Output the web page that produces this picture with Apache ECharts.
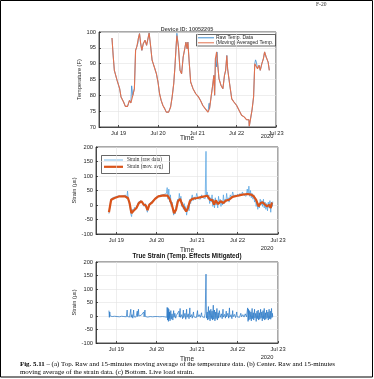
<!DOCTYPE html>
<html><head><meta charset="utf-8">
<script src="https://cdn.jsdelivr.net/npm/echarts@6/dist/echarts.min.js"></script>
<style>html,body{margin:0;padding:0;background:#fff}#c{width:374px;height:379px}</style>
</head><body><div id="c"></div><script>
// ---- data (day of July 2020, value) ----
const xTickLabels = {19:'Jul 19',20:'Jul 20',21:'Jul 21',22:'Jul 22',23:'Jul 23'};
const tempYTicks = [70,75,80,85,90,95,100];
const strainYTicks = [-100,-50,0,50,100,150,200];

const tempAvg = [[18.83,98.1],[18.86,92.6],[18.89,87.9],[18.96,84.7],[19.025,82.1],[19.06,79.5],[19.125,77.9],[19.17,76.5],[19.225,76.5],[19.275,78.4],[19.31,77.6],[19.36,80.0],[19.4,82.1],[19.43,94.2],[19.46,95.3],[19.5,97.9],[19.53,99.5],[19.56,96.3],[19.59,94.2],[19.625,96.3],[19.67,97.4],[19.71,95.8],[19.75,95.5],[19.775,99.7],[19.81,95.8],[19.85,91.1],[19.92,88.4],[19.96,86.8],[20.0,84.2],[20.04,80.5],[20.08,78.4],[20.125,76.8],[20.17,75.8],[20.21,74.7],[20.27,74.7],[20.32,76.3],[20.36,79.5],[20.4,83.7],[20.43,88.9],[20.46,95.3],[20.48,98.9],[20.52,95.3],[20.56,87.9],[20.6,86.8],[20.64,92.1],[20.68,94.7],[20.71,96.8],[20.74,94.7],[20.76,96.8],[20.79,91.1],[20.83,84.2],[20.89,82.1],[20.96,80.5],[21.03,79.5],[21.08,78.4],[21.14,76.8],[21.2,75.8],[21.27,74.7],[21.31,75.8],[21.35,79.5],[21.39,83.2],[21.42,86.3],[21.44,80.0],[21.46,91.6],[21.49,93.7],[21.52,89.5],[21.55,85.3],[21.6,83.2],[21.65,82.1],[21.69,86.3],[21.72,87.9],[21.75,92.6],[21.77,88.4],[21.82,83.7],[21.875,78.9],[21.93,77.9],[22.0,76.8],[22.06,75.3],[22.125,73.7],[22.19,73.2],[22.25,72.3],[22.31,72.3],[22.32,70.2],[22.35,70.2],[22.39,75.3],[22.43,79.5],[22.46,90.0],[22.5,90.5],[22.53,88.4],[22.57,89.5],[22.6,87.9],[22.64,90.0],[22.68,91.6],[22.71,93.7],[22.75,92.1],[22.77,92.6],[22.8,90.5],[22.83,87.9]];

const tempRaw = [[18.83,98.1],[18.86,92.6],[18.89,87.9],[18.96,84.7],[19.025,82.1],[19.06,79.5],[19.125,77.9],[19.17,76.5],[19.225,76.5],[19.275,78.4],[19.31,77.6],[19.33,83.0],[19.36,80.0],[19.4,82.1],[19.43,94.2],[19.46,95.3],[19.49,96.5],[19.5,97.9],[19.53,99.5],[19.56,96.3],[19.59,94.2],[19.625,96.3],[19.67,97.4],[19.71,95.8],[19.75,95.5],[19.775,99.7],[19.81,95.8],[19.85,91.1],[19.92,88.4],[19.96,86.8],[20.0,84.2],[20.04,80.5],[20.08,78.4],[20.125,76.8],[20.15,76.2],[20.17,75.8],[20.21,74.7],[20.27,74.7],[20.32,76.3],[20.36,79.5],[20.4,83.7],[20.43,88.9],[20.46,95.3],[20.48,99.6],[20.52,95.3],[20.56,87.9],[20.6,86.8],[20.64,92.1],[20.68,94.7],[20.71,96.8],[20.74,94.7],[20.76,96.8],[20.79,91.1],[20.83,84.2],[20.89,82.1],[20.96,80.5],[21.03,79.5],[21.08,78.4],[21.14,76.8],[21.2,75.8],[21.27,74.7],[21.3,77.5],[21.31,75.8],[21.35,79.5],[21.39,83.2],[21.42,86.3],[21.44,80.0],[21.46,91.6],[21.49,89.0],[21.5,93.7],[21.52,89.5],[21.55,85.3],[21.6,83.2],[21.65,82.1],[21.69,86.3],[21.72,87.9],[21.75,92.6],[21.77,88.4],[21.82,83.7],[21.875,78.9],[21.93,77.9],[22.0,76.8],[22.06,75.3],[22.125,73.7],[22.19,73.2],[22.25,72.3],[22.31,72.3],[22.32,70.2],[22.35,70.2],[22.39,75.3],[22.43,79.5],[22.46,90.0],[22.48,91.2],[22.5,90.5],[22.53,88.4],[22.57,89.5],[22.6,87.9],[22.64,90.0],[22.68,91.6],[22.71,93.7],[22.75,92.1],[22.77,92.6],[22.8,90.5],[22.83,87.9]];

const strainAvg = [[18.82,-25],[18.875,18],[18.96,24],[19.08,30],[19.21,30],[19.29,24],[19.33,7],[19.375,-28],[19.43,-20],[19.5,-10],[19.56,7],[19.625,13],[19.68,1],[19.73,-1],[19.775,-18],[19.82,1],[19.875,7],[19.96,21],[20.04,30],[20.17,33],[20.27,32],[20.32,21],[20.375,1],[20.43,-28],[20.48,-16],[20.525,13],[20.58,21],[20.63,1],[20.68,-10],[20.73,-22],[20.775,-10],[20.82,13],[20.875,21],[21.0,24],[21.125,28],[21.25,32],[21.32,18],[21.375,18],[21.42,1],[21.46,16],[21.52,3],[21.58,13],[21.65,7],[21.71,15],[21.79,18],[21.875,28],[22.0,32],[22.125,36],[22.25,38],[22.33,36],[22.4,30],[22.46,18],[22.52,-5],[22.57,7],[22.625,9],[22.68,1],[22.73,-5],[22.78,1],[22.82,-10],[22.85,9]];

const strainRaw = [[18.82,-30],[18.84,-10],[18.86,15],[18.88,22],[18.90,18],[18.93,26],[18.96,22],[18.99,28],[19.02,25],[19.05,31],[19.08,27],[19.11,30],[19.14,26],[19.17,32],[19.20,28],[19.23,34],[19.26,22],[19.28,48],[19.30,20],[19.32,5],[19.34,-5],[19.36,-30],[19.38,-40],[19.40,-15],[19.42,-25],[19.45,-8],[19.48,-15],[19.51,-5],[19.54,8],[19.57,2],[19.60,15],[19.63,10],[19.66,3],[19.69,-5],[19.72,5],[19.75,-15],[19.77,-25],[19.79,-10],[19.82,5],[19.85,0],[19.88,12],[19.91,8],[19.94,20],[19.97,18],[20.00,28],[20.03,25],[20.06,32],[20.09,28],[20.12,35],[20.15,30],[20.18,36],[20.21,30],[20.24,40],[20.26,60],[20.28,20],[20.30,55],[20.32,10],[20.34,35],[20.36,-5],[20.38,10],[20.40,-15],[20.42,-35],[20.44,-20],[20.46,-30],[20.48,-5],[20.50,5],[20.52,20],[20.54,10],[20.56,40],[20.58,15],[20.60,30],[20.62,-5],[20.64,10],[20.66,-15],[20.68,5],[20.70,-20],[20.72,-5],[20.74,-35],[20.76,-15],[20.78,0],[20.80,-20],[20.82,20],[20.84,5],[20.86,25],[20.88,35],[20.90,15],[20.93,28],[20.96,18],[20.99,40],[21.02,22],[21.05,28],[21.08,20],[21.11,35],[21.14,25],[21.17,30],[21.20,22],[21.22,185],[21.23,30],[21.25,45],[21.27,20],[21.29,35],[21.31,5],[21.33,25],[21.35,10],[21.37,35],[21.39,-5],[21.41,20],[21.43,-10],[21.45,25],[21.47,0],[21.49,15],[21.51,-10],[21.53,30],[21.55,5],[21.57,20],[21.59,-5],[21.61,15],[21.63,0],[21.65,35],[21.67,5],[21.69,20],[21.71,10],[21.73,40],[21.75,15],[21.77,25],[21.79,10],[21.82,35],[21.85,25],[21.88,45],[21.91,28],[21.94,35],[21.97,28],[22.00,38],[22.03,30],[22.06,40],[22.09,32],[22.12,45],[22.15,35],[22.18,40],[22.21,30],[22.24,55],[22.26,35],[22.28,65],[22.30,30],[22.32,50],[22.34,25],[22.36,40],[22.38,20],[22.40,35],[22.42,10],[22.44,25],[22.46,-5],[22.48,10],[22.50,-15],[22.52,5],[22.54,-10],[22.56,20],[22.58,0],[22.60,15],[22.62,-5],[22.64,20],[22.66,-10],[22.68,10],[22.70,-15],[22.72,5],[22.74,-20],[22.76,10],[22.78,-10],[22.80,15],[22.82,-25],[22.84,10],[22.86,-5],[22.87,12]];

const trueStrain = [[18.82,20],[18.83,-5],[18.84,15],[18.85,0],[18.87,3],[18.90,-2],[18.93,2],[18.96,-1],[18.99,3],[19.02,-2],[19.05,1],[19.08,-3],[19.10,2],[19.13,-1],[19.16,4],[19.19,-2],[19.22,2],[19.25,-3],[19.27,22],[19.28,-2],[19.30,3],[19.33,-4],[19.36,25],[19.37,-5],[19.39,5],[19.41,-8],[19.43,22],[19.44,-3],[19.46,4],[19.49,-4],[19.52,18],[19.53,-2],[19.55,25],[19.56,0],[19.59,-3],[19.62,3],[19.65,-2],[19.68,15],[19.69,-3],[19.71,22],[19.72,-2],[19.75,3],[19.78,-4],[19.81,2],[19.84,-2],[19.87,3],[19.90,-3],[19.93,2],[19.96,-2],[19.99,3],[20.02,-2],[20.05,2],[20.08,-3],[20.11,3],[20.14,-2],[20.17,2],[20.20,-3],[20.23,4],[20.25,-5],[20.26,32],[20.27,-15],[20.28,30],[20.29,-20],[20.30,25],[20.31,-10],[20.32,15],[20.33,-18],[20.35,20],[20.36,-12],[20.38,8],[20.40,-15],[20.42,20],[20.43,-5],[20.45,10],[20.47,-8],[20.49,3],[20.52,-3],[20.55,18],[20.56,-4],[20.58,28],[20.59,-5],[20.62,5],[20.64,-10],[20.66,22],[20.67,-6],[20.70,10],[20.72,-12],[20.74,25],[20.75,-5],[20.78,8],[20.80,-10],[20.82,30],[20.83,-4],[20.86,5],[20.88,-8],[20.91,15],[20.92,-3],[20.95,4],[20.98,-6],[21.01,20],[21.02,-3],[21.05,5],[21.08,-5],[21.11,12],[21.12,-2],[21.15,4],[21.18,-6],[21.20,10],[21.22,155],[21.23,-8],[21.25,15],[21.26,-15],[21.28,35],[21.29,-12],[21.31,20],[21.32,-18],[21.34,25],[21.35,-10],[21.37,18],[21.38,-15],[21.40,40],[21.41,-12],[21.43,22],[21.44,-18],[21.46,15],[21.47,-10],[21.49,28],[21.50,-15],[21.52,12],[21.53,-8],[21.55,20],[21.57,-5],[21.60,8],[21.62,-10],[21.64,25],[21.65,-4],[21.68,6],[21.70,-8],[21.72,18],[21.73,-3],[21.76,10],[21.78,-8],[21.80,30],[21.81,-4],[21.84,5],[21.86,-10],[21.88,20],[21.89,-3],[21.92,6],[21.95,-6],[21.98,15],[21.99,-3],[22.02,4],[22.05,-5],[22.08,10],[22.10,-3],[22.13,5],[22.16,-4],[22.19,8],[22.22,-3],[22.25,30],[22.26,-20],[22.27,25],[22.28,-15],[22.30,20],[22.31,-12],[22.33,15],[22.34,-18],[22.36,28],[22.37,-10],[22.39,12],[22.40,-15],[22.42,25],[22.43,-8],[22.45,10],[22.46,-20],[22.48,18],[22.49,-10],[22.51,22],[22.52,-15],[22.54,12],[22.55,-12],[22.57,25],[22.58,-8],[22.60,15],[22.61,-18],[22.63,20],[22.64,-10],[22.66,28],[22.67,-15],[22.69,12],[22.70,-12],[22.72,22],[22.73,-8],[22.75,15],[22.76,-15],[22.78,25],[22.79,-10],[22.81,18],[22.82,-12],[22.84,28],[22.85,-6],[22.86,10],[22.87,-3]];

// ---- helpers ----
const base = new Date(2020, 6, 1).getTime();
const DAY = 864e5;
const toT = d => base + (d - 1) * DAY;
const conv = arr => arr.map(p => [toT(p[0]), p[1]]);
const X_MIN = toT(18.5), X_MAX = toT(23);

const AX = '#262626';
const FONT = 'Liberation Sans';
const lab = {fontSize: 5.7, color: '#262626', fontFamily: FONT};

function xAxis(gi) {
  return {
    type: 'time', gridIndex: gi, min: X_MIN, max: X_MAX,
    minInterval: DAY, maxInterval: DAY,
    axisLine: {show: true, onZero: false, lineStyle: {color: AX, width: 0.8}},
    axisTick: {show: true, inside: true, length: 2, lineStyle: {color: AX, width: 0.8}},
    axisLabel: Object.assign({}, lab, {margin: 3, hideOverlap: false, showMinLabel: false, showMaxLabel: true,
      formatter: v => { const d = new Date(v); return (d.getHours() === 0 && d.getMinutes() === 0) ? (xTickLabels[d.getDate()] || '') : ''; }}),
    splitLine: {show: true, lineStyle: {color: '#e3e3e3', width: 0.6}},
    minorTick: {show: false}
  };
}
function yAxis(gi, ticks, name) {
  return {
    type: 'value', gridIndex: gi, min: ticks[0], max: ticks[ticks.length - 1],
    interval: ticks[1] - ticks[0],
    name: name, nameLocation: 'middle', nameGap: 14, nameRotate: 90,
    nameTextStyle: {fontSize: 5.7, color: '#262626', fontFamily: FONT},
    axisLine: {show: true, lineStyle: {color: AX, width: 0.8}},
    axisTick: {show: true, inside: true, length: 2, lineStyle: {color: AX, width: 0.8}},
    axisLabel: Object.assign({}, lab, {margin: 3}),
    splitLine: {show: true, lineStyle: {color: '#e3e3e3', width: 0.6}}
  };
}

const grids = [
  {left: 99, top: 32, width: 177, height: 95},
  {left: 96, top: 147, width: 182, height: 87},
  {left: 96, top: 262, width: 182, height: 81}
].map(g => Object.assign(g, {show: true, borderColor: AX, borderWidth: 0.8, backgroundColor: '#fff'}));

function txt(x, y, text, extra) {
  return {type: 'text', x: x, y: y, silent: true,
    style: Object.assign({text: text, fontSize: 5.5, fill: '#262626', fontFamily: FONT}, extra || {})};
}
function line(x1, y1, x2, y2, color, w) {
  return {type: 'line', silent: true, shape: {x1, y1, x2, y2}, style: {stroke: color, lineWidth: w}};
}

const SERIF = 'Liberation Serif';
const graphic = [
  {type: 'rect', silent: true, shape: {x: 0.5, y: 0.5, width: 372, height: 376.5}, style: {fill: 'none', stroke: '#000', lineWidth: 1}},
  txt(316, 2, 'F-20', {fontFamily: SERIF, fontSize: 5.5, fill: '#333'}),
  txt(187, 26, 'Device ID: 10052205', {fontWeight: 'bold', fontSize: 5.5, align: 'center', fill: '#555'}),
  txt(187, 134.5, 'Time', {align: 'center', fontSize: 6.5}),
  txt(267, 133.5, '2020', {align: 'center', fontSize: 5.7}),
  // top legend
  {type: 'rect', silent: true, shape: {x: 196.5, y: 34.5, width: 79, height: 11.5}, style: {fill: '#fff', stroke: AX, lineWidth: 0.7}},
  line(198, 37.8, 214, 37.8, '#3f8fd2', 1),
  line(198, 42.8, 214, 42.8, '#e2714e', 1),
  txt(216, 35.3, 'Raw Temp. Data', {fontSize: 5}),
  txt(216, 40.3, '(Moving) Averaged Temp.', {fontSize: 5}),
  // middle
  txt(187, 246.5, 'Time', {align: 'center', fontSize: 6.5}),
  txt(267, 245.5, '2020', {align: 'center', fontSize: 5.7}),
  {type: 'rect', silent: true, shape: {x: 101.5, y: 155.5, width: 68, height: 18}, style: {fill: '#fff', stroke: AX, lineWidth: 0.7}},
  line(104, 160, 123, 160, '#7bbbe9', 1),
  line(104, 166.8, 123, 166.8, '#D95319', 2.2),
  txt(127, 157.3, 'Strain (raw data)', {fontFamily: SERIF, fontSize: 5.2}),
  txt(127, 164.3, 'Strain (mov. avg)', {fontFamily: SERIF, fontSize: 5.2}),
  // bottom
  txt(187, 253, 'True Strain (Temp. Effects Mitigated)', {fontWeight: 'bold', fontSize: 6.3, align: 'center', fill: '#111'}),
  txt(187, 355.5, 'Time', {align: 'center', fontSize: 6.5}),
  txt(267, 354.5, '2020', {align: 'center', fontSize: 5.7}),
  // caption
  {type: 'text', x: 20, y: 361, silent: true, style: {
    rich: {b: {fontWeight: 'bold', fontFamily: SERIF, fontSize: 6.9, fill: '#000'}, n: {fontFamily: SERIF, fontSize: 6.9, fill: '#000'}},
    text: '{b|Fig. 5.11} {n|\u2013 (a) Top. Raw and 15-minutes moving average of the temperature data. (b) Center. Raw and 15-minutes}',
    fontFamily: SERIF, fontSize: 6.9}},
  txt(20, 368.5, 'moving average of the strain data. (c) Bottom. Live load strain.', {fontFamily: SERIF, fontSize: 6.9, fill: '#000'})
];

const option = {
  animation: false,
  backgroundColor: '#fff',
  grid: grids,
  xAxis: [xAxis(0), xAxis(1), xAxis(2)],
  yAxis: [yAxis(0, tempYTicks, 'Temperature (F)'), yAxis(1, strainYTicks, 'Strain (\u03bc\u03b5)'), yAxis(2, strainYTicks, 'Strain (\u03bc\u03b5)')],
  series: [
    {name: 'Raw Temp. Data', type: 'line', xAxisIndex: 0, yAxisIndex: 0, data: conv(tempRaw), showSymbol: false, lineStyle: {color: '#3f8fd2', width: 0.8}},
    {name: '(Moving) Averaged Temp.', type: 'line', xAxisIndex: 0, yAxisIndex: 0, data: conv(tempAvg), showSymbol: false, lineStyle: {color: '#e2714e', width: 1.1}},
    {name: 'Strain (raw data)', type: 'line', xAxisIndex: 1, yAxisIndex: 1, data: conv(strainRaw), showSymbol: false, lineStyle: {color: '#4a9ee0', width: 0.7}},
    {name: 'Strain (mov. avg)', type: 'line', xAxisIndex: 1, yAxisIndex: 1, data: conv(strainAvg), showSymbol: false, lineStyle: {color: '#D95319', width: 2.2}},
    {name: 'True Strain', type: 'line', xAxisIndex: 2, yAxisIndex: 2, data: conv(trueStrain), showSymbol: false, lineStyle: {color: '#1f72c4', width: 0.7}}
  ],
  graphic: graphic
};
const chart = echarts.init(document.getElementById('c'), null, {renderer: 'canvas'});
chart.setOption(option);
</script></body></html>
